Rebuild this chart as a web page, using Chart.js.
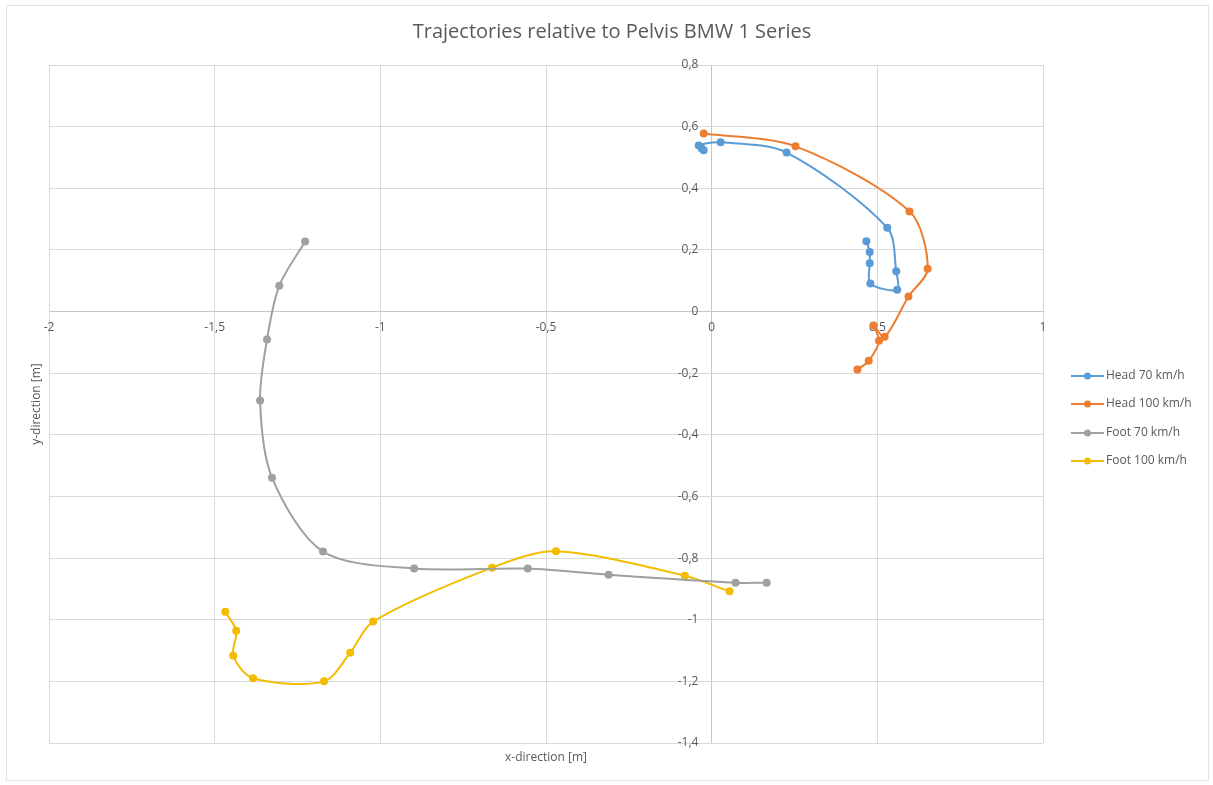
<!DOCTYPE html>
<html>
<head>
<meta charset="utf-8">
<title>Trajectories relative to Pelvis BMW 1 Series</title>
<script src="https://cdn.jsdelivr.net/npm/chart.js@4.4.1/dist/chart.umd.min.js"></script>
<style>
  html, body { margin: 0; padding: 0; background: #ffffff; }
  #wrap { width: 1213px; height: 785px; }
</style>
</head>
<body>
<div id="wrap"><canvas id="chart" width="1213" height="785"></canvas></div>
<script>
// Trajectory coordinates in metres (x = x-direction, y = y-direction)
const head70X  = [0.467, 0.477, 0.477, 0.479, 0.560, 0.557, 0.530, 0.226, 0.027, -0.039, -0.030, -0.024];
const head70Y  = [0.228, 0.193, 0.157, 0.091, 0.071, 0.131, 0.272, 0.516, 0.549, 0.539, 0.529, 0.523];

const head100X = [-0.024, 0.253, 0.597, 0.652, 0.594, 0.522, 0.489, 0.505, 0.474, 0.440];
const head100Y = [0.578, 0.536, 0.325, 0.139, 0.049, -0.082, -0.045, -0.095, -0.160, -0.188];

const foot70X  = [-1.227, -1.305, -1.342, -1.363, -1.327, -1.173, -0.898, -0.555, -0.311, 0.072, 0.166];
const foot70Y  = [0.227, 0.084, -0.091, -0.289, -0.539, -0.779, -0.834, -0.834, -0.854, -0.880, -0.880];

const foot100X = [-1.468, -1.435, -1.444, -1.384, -1.170, -1.091, -1.022, -0.663, -0.470, -0.081, 0.054];
const foot100Y = [-0.974, -1.036, -1.117, -1.190, -1.200, -1.107, -1.006, -0.831, -0.778, -0.857, -0.908];

const seriesNames  = ['Head 70 km/h', 'Head 100 km/h', 'Foot 70 km/h', 'Foot 100 km/h'];
const seriesColors = ['#5b9bd5', '#ed7d31', '#a0a0a0', '#f2bd00'];

const chartTitle = 'Trajectories relative to Pelvis BMW 1 Series';
const xTitle = 'x-direction [m]';
const yTitle = 'y-direction [m]';

const xMin = -2, xMax = 1, xStep = 0.5;
const yMin = -1.4, yMax = 0.8, yStep = 0.2;

function pairs(xs, ys) {
  return xs.map((x, i) => ({ x: x, y: ys[i] }));
}

const seriesData = [
  pairs(head70X, head70Y),
  pairs(head100X, head100Y),
  pairs(foot70X, foot70Y),
  pairs(foot100X, foot100Y)
];

const textColor = '#595959';
const fontFamily = "'Open Sans', 'Liberation Sans', sans-serif";
const gridColor = '#d9d9d9';
const axisColor = '#c6c6c6';

function fmt(v) {
  const r = Math.round(v * 10) / 10;
  return (Object.is(r, -0) ? 0 : r).toString().replace('.', ',');
}

// Frame, title, axis titles and legend drawn around the plot area
const decorations = {
  id: 'decorations',
  beforeDraw(chart) {
    const ctx = chart.ctx;
    ctx.save();
    ctx.fillStyle = '#ffffff';
    ctx.fillRect(0, 0, chart.width, chart.height);
    ctx.strokeStyle = '#e2e2e2';
    ctx.lineWidth = 1;
    ctx.strokeRect(6.5, 5.5, 1202, 775);
    ctx.restore();
  },
  afterDraw(chart) {
    const ctx = chart.ctx;
    const area = chart.chartArea;
    ctx.save();
    ctx.fillStyle = textColor;
    ctx.textAlign = 'center';
    ctx.textBaseline = 'middle';
    ctx.font = '20px ' + fontFamily;
    ctx.fillText(chartTitle, 612, 32);

    ctx.font = '12px ' + fontFamily;
    ctx.fillText(xTitle, (area.left + area.right) / 2, 758);

    ctx.save();
    ctx.translate(37, (area.top + area.bottom) / 2);
    ctx.rotate(-Math.PI / 2);
    ctx.fillText(yTitle, 0, 0);
    ctx.restore();

    // legend: line with marker, then label
    const rowY = [376, 404, 433, 461];
    ctx.textAlign = 'left';
    ctx.font = '12px ' + fontFamily;
    chart.data.datasets.forEach((ds, i) => {
      const y = rowY[i];
      ctx.strokeStyle = ds.borderColor;
      ctx.lineWidth = 2;
      ctx.beginPath();
      ctx.moveTo(1071, y);
      ctx.lineTo(1104, y);
      ctx.stroke();
      ctx.fillStyle = ds.borderColor;
      ctx.beginPath();
      ctx.arc(1087.5, y, 3.5, 0, Math.PI * 2);
      ctx.fill();
      ctx.fillStyle = textColor;
      ctx.fillText(ds.label, 1106, y);
    });
    ctx.restore();
  }
};

new Chart(document.getElementById('chart'), {
  type: 'scatter',
  data: {
    datasets: seriesData.map((d, i) => ({
      label: seriesNames[i],
      data: d,
      showLine: true,
      tension: 0.3,
      borderColor: seriesColors[i],
      backgroundColor: seriesColors[i],
      borderWidth: 2,
      pointRadius: 4,
      pointHoverRadius: 4,
      pointBorderWidth: 0
    }))
  },
  options: {
    responsive: false,
    animation: false,
    devicePixelRatio: 1,
    layout: { padding: { left: 49, top: 65, right: 170, bottom: 42 } },
    plugins: {
      legend: { display: false },
      title: { display: false },
      tooltip: { enabled: false }
    },
    scales: {
      x: {
        type: 'linear',
        position: { y: 0 },
        min: xMin, max: xMax,
        ticks: {
          stepSize: xStep,
          color: textColor,
          font: { size: 12, family: fontFamily },
          padding: 9,
          maxRotation: 0,
          autoSkip: false,
          callback: v => fmt(v)
        },
        // the vertical line at x = 0 doubles as the y axis line
        grid: {
          color: c => (c.tick && Math.abs(c.tick.value) < 1e-9 ? axisColor : gridColor),
          lineWidth: 1,
          drawTicks: false
        },
        border: { color: axisColor, width: 1 }
      },
      y: {
        type: 'linear',
        // labels sit just left of the x = 0 line
        position: { x: -0.04 },
        min: yMin, max: yMax,
        ticks: {
          stepSize: yStep,
          color: textColor,
          font: { size: 12, family: fontFamily },
          autoSkip: false,
          callback: v => fmt(v)
        },
        grid: { color: gridColor, lineWidth: 1, drawTicks: false },
        border: { display: false }
      }
    }
  },
  plugins: [decorations]
});
</script>
</body>
</html>
